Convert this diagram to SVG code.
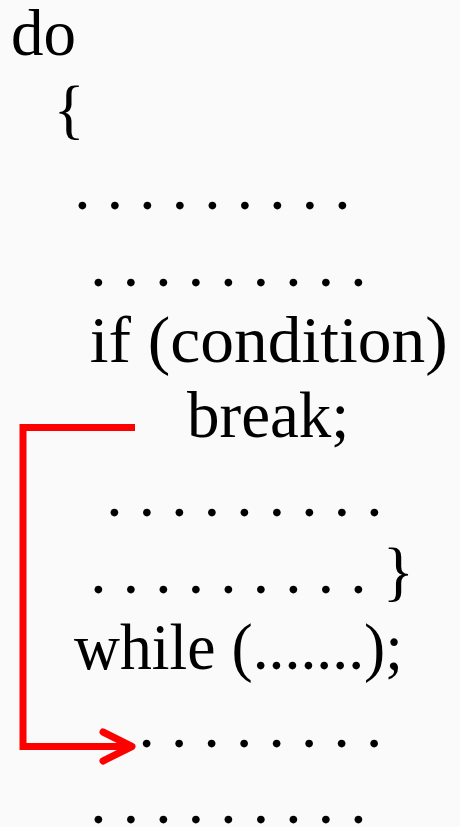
<svg xmlns="http://www.w3.org/2000/svg" width="460" height="827" viewBox="0 0 460 827">
  <style>
    .t { font-family: "Liberation Serif", "Times New Roman", serif; font-size: 65px; fill: #000; }
    .conn { fill: none; stroke: #ff0000; stroke-width: 7; stroke-linejoin: miter; }
  </style>
  <defs>
    <marker id="arrow" markerUnits="userSpaceOnUse" markerWidth="40" markerHeight="40" viewBox="0 0 40 40" refX="34" refY="20" orient="auto" overflow="visible">
      <path d="M5,5.5 L34,20 L5,34.5" fill="none" stroke="#ff0000" stroke-width="7" stroke-linecap="round" stroke-linejoin="round"/>
    </marker>
  </defs>
  <rect x="0" y="0" width="460" height="827" fill="#fafafa"/>

  <g id="line-do"><text class="t" x="11" y="55">do</text></g>
  <g id="line-open-brace"><text class="t" x="53.5" y="131">{</text></g>
  <g id="line-dots-1"><text class="t" x="74.2" y="208.5">. . . . . . . . .</text></g>
  <g id="line-dots-2"><text class="t" x="90.2" y="285.5">. . . . . . . . .</text></g>
  <g id="line-if"><text class="t" x="89.7" y="362" textLength="358" lengthAdjust="spacingAndGlyphs">if (condition)</text></g>
  <g id="line-break"><text class="t" x="187" y="437">break;</text></g>
  <g id="line-dots-3"><text class="t" x="106.2" y="515.5">. . . . . . . . .</text></g>
  <g id="line-dots-4"><text class="t" x="90.2" y="592.5">. . . . . . . . . }</text></g>
  <g id="line-while"><text class="t" x="74" y="669" textLength="329" lengthAdjust="spacingAndGlyphs">while (.......);</text></g>
  <g id="line-dots-5"><text class="t" x="138.6" y="746.5">. . . . . . . .</text></g>
  <g id="line-dots-6"><text class="t" x="90.2" y="822.5">. . . . . . . . .</text></g>

  <g id="connectors">
    <polyline class="conn" points="135,427.5 23,427.5 23,746.5 132,746.5" marker-end="url(#arrow)"/>
  </g>
</svg>
